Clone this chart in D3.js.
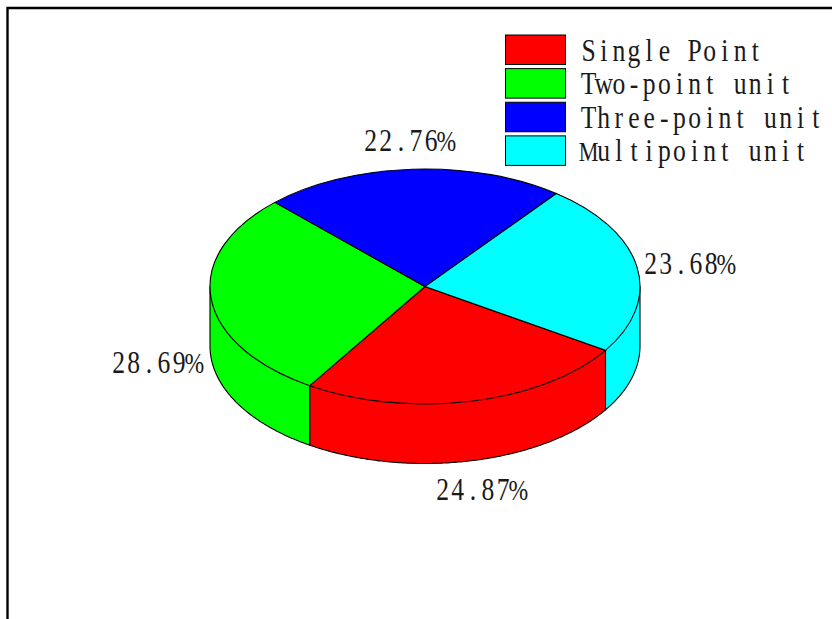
<!DOCTYPE html>
<html>
<head>
<meta charset="utf-8">
<script src="https://cdn.jsdelivr.net/npm/d3@7"></script>
<style>
  html, body { margin: 0; padding: 0; background: #fff; }
  svg { display: block; }
  text { font-family: "Liberation Serif", serif; fill: #1a1a1a; white-space: pre; }
</style>
</head>
<body>
<svg id="chart" width="832" height="619"></svg>
<script>
const categories = ["Single Point", "Two-point unit", "Three-point unit", "Multipoint unit"];
const shares = [24.87, 28.69, 22.76, 23.68];
const sliceColors = ["#ff0000", "#00ff00", "#0000ff", "#00ffff"];
const shareLabels = ["24.87%", "28.69%", "22.76%", "23.68%"];

const W = 832, H = 619;
const cx = 425, cy = 286.5, rx = 215, ry = 117.5, depth = 59.5;
const firstAngle = 122.9 * Math.PI / 180;
const labelSpots = [[435, 499.5], [111, 372.5], [363, 150.5], [643, 273.5]];
const charStep = 15.15, fontSize = 32, squeeze = 0.8, maxOverflow = 1.3;

const svg = d3.select("#chart");

// Frame runs off the right and bottom of the page
svg.append("path")
  .attr("d", `M7.5,${H + 5}V8H${W + 5}`)
  .attr("fill", "none").attr("stroke", "#000").attr("stroke-width", 2.4);

const pie = d3.pie().value(d => d).sort(null)
  .startAngle(firstAngle).endAngle(firstAngle + 2 * Math.PI);
const arcs = pie(shares);

const ex = a => cx + rx * Math.sin(a);
const ey = a => cy - ry * Math.cos(a);

// Cylinder wall: only the part of each slice facing the viewer (90deg to 270deg)
const wall = d3.area().x(a => ex(a)).y0(a => ey(a)).y1(a => ey(a) + depth);
const wallTop = Math.PI / 2, wallEnd = 3 * Math.PI / 2;
arcs.forEach((d, i) => {
  [0, 2 * Math.PI].forEach(shift => {
    const a0 = Math.max(d.startAngle - shift, wallTop);
    const a1 = Math.min(d.endAngle - shift, wallEnd);
    if (a1 <= a0) return;
    const steps = d3.range(a0, a1, 0.01).concat(a1);
    svg.append("path")
      .attr("d", wall(steps))
      .attr("fill", sliceColors[i]);
    svg.append("path")
      .attr("d", `M${ex(a0)},${ey(a0)}V${ey(a0) + depth}` +
                 d3.line().x(a => ex(a)).y(a => ey(a) + depth)(steps).replace(/^M/, "L") +
                 `V${ey(a1)}`)
      .attr("fill", "none").attr("stroke", "#000").attr("stroke-width", 1.1);
  });
});

// Top face: a circular pie squashed into an ellipse
const arc = d3.arc().innerRadius(0).outerRadius(rx);
svg.append("g")
  .attr("transform", `translate(${cx},${cy}) scale(1,${ry / rx})`)
  .selectAll("path").data(arcs).join("path")
  .attr("d", arc)
  .attr("fill", (d, i) => sliceColors[i])
  .attr("stroke", "#000")
  .attr("stroke-width", 1.1)
  .attr("vector-effect", "non-scaling-stroke");

// Fixed-pitch lettering from a proportional face: the line is narrowed as a whole,
// each glyph is centred in its own cell, and the widest glyphs are set a little smaller.
function pitched(parent, str, x, y) {
  const probe = svg.append("text").attr("font-size", fontSize);
  const glyphs = Array.from(str).map(ch => {
    probe.text(ch === " " ? "n" : ch);
    const w = probe.node().getComputedTextLength() * squeeze;
    const scale = Math.min(1, maxOverflow * charStep / w);
    return { ch, w: w * scale, scale };
  });
  probe.remove();
  const t = parent.append("text")
    .attr("transform", `translate(${x},${y}) scale(${squeeze},1)`)
    .attr("font-size", fontSize)
    .attr("x", glyphs.map((g, k) => ((charStep * k + (charStep - g.w) / 2) / squeeze).toFixed(2)).join(" "))
    .attr("y", 0);
  glyphs.forEach(g => {
    const span = t.append("tspan").text(g.ch);
    if (g.scale < 1) span.attr("font-size", (fontSize * g.scale).toFixed(2));
  });
}

shareLabels.forEach((t, i) => pitched(svg, t, labelSpots[i][0], labelSpots[i][1]));

// Legend
const legendY = d3.scaleBand().domain(categories).range([35, 168.5]).paddingInner(0.03);
const legend = svg.append("g");
categories.forEach((c, i) => {
  legend.append("rect")
    .attr("x", 505.5).attr("y", legendY(c))
    .attr("width", 60).attr("height", 29.5)
    .attr("fill", sliceColors[i]).attr("stroke", "#000").attr("stroke-width", 1);
  pitched(legend, c, 581, legendY(c) + 25.5);
});
</script>
</body>
</html>
